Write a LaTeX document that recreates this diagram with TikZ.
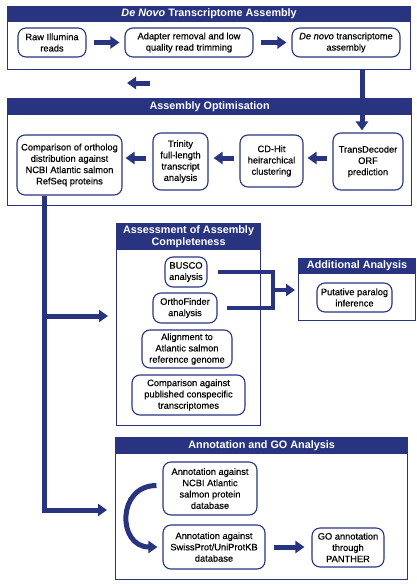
\documentclass[tikz,border=0pt]{standalone}
\usepackage{fontspec}
\setmainfont{Liberation Sans}
\newfontfamily\stepfont[FakeBold=0.35]{Liberation Sans}
\usetikzlibrary{arrows.meta}
\definecolor{navy}{RGB}{40,52,128}
\begin{document}
\begin{tikzpicture}[x=1pt,y=-1pt,
 stepbox/.style={draw=navy, line width=1.1pt, rounded corners=8pt, fill=white, align=center, inner sep=1pt, font=\stepfont\fontsize{9.3}{11.3}\selectfont},
 framebox/.style={draw=navy, line width=1.2pt, anchor=north west, inner sep=0pt},
 titlebar/.style={fill=navy, draw=navy, line width=1.2pt, anchor=north west, inner sep=0pt, text=white, align=center, font=\bfseries\fontsize{10.8}{12}\selectfont},
 fatarrow/.style={draw=navy, line width=5pt, -{Triangle[width=12pt,length=9pt]}},
 bline/.style={draw=navy, line width=4pt},
]
\useasboundingbox (0,0) rectangle (417,584);

% ---- frames
\node[framebox, minimum width=403pt, minimum height=63pt] (f1) at (7,6) {};
\node[titlebar, minimum width=403pt, minimum height=15pt] (t1) at (7,6) {\textit{De Novo} Transcriptome Assembly};

\node[framebox, minimum width=404pt, minimum height=107pt] (f2) at (7,98) {};
\node[titlebar, minimum width=404pt, minimum height=16pt] (t2) at (7,98) {Assembly Optimisation};

\node[framebox, minimum width=144pt, minimum height=202pt] (f3) at (116,223) {};
\node[titlebar, minimum width=144pt, minimum height=26pt] (t3) at (116,223) {Assessment of Assembly\\Completeness};

\node[framebox, minimum width=117pt, minimum height=62pt] (f4) at (298,258) {};
\node[titlebar, minimum width=117pt, minimum height=15pt] (t4) at (298,258) {Additional Analysis};

\node[framebox, minimum width=292pt, minimum height=142pt] (f5) at (115,437) {};
\node[titlebar, minimum width=292pt, minimum height=16pt] (t5) at (115,437) {Annotation and GO Analysis};

% ---- box 1 nodes
\node[stepbox, minimum width=68pt, minimum height=29pt] (raw) at (52,42.5) {Raw Illumina\\reads};
\node[stepbox, minimum width=128pt, minimum height=29pt] (adapt) at (189,42.5) {Adapter removal and low\\quality read trimming};
\node[stepbox, minimum width=108pt, minimum height=29pt] (denovo) at (346,42.5) {\textit{De novo} transcriptome\\assembly};

% ---- box 2 nodes
\node[stepbox, minimum width=105pt, minimum height=60pt] (cmp) at (69.5,165) {Comparison of ortholog\\distribution against\\NCBI Atlantic salmon\\RefSeq proteins};
\node[stepbox, minimum width=55pt, minimum height=57pt] (trin) at (180.5,161.5) {Trinity\\full-length\\transcript\\analysis};
\node[stepbox, minimum width=63pt, minimum height=52pt] (cdhit) at (271.5,161) {CD-Hit\\heirarchical\\clustering};
\node[stepbox, minimum width=70pt, minimum height=57pt] (transd) at (368,161.5) {TransDecoder\\ORF\\prediction};

% ---- box 3 nodes
\node[stepbox, minimum width=42pt, minimum height=30pt] (busco) at (186,272) {BUSCO\\analysis};
\node[stepbox, minimum width=64pt, minimum height=30pt] (ortho) at (185,308) {OrthoFinder\\analysis};
\node[stepbox, minimum width=90pt, minimum height=38pt] (align) at (187,349) {Alignment to\\Atlantic salmon\\reference genome};
\node[stepbox, minimum width=113pt, minimum height=40pt] (compub) at (188.5,395) {Comparison against\\published conspecific\\transcriptomes};

% ---- box 4 node
\node[stepbox, minimum width=75pt, minimum height=29pt] (para) at (354.5,297.5) {Putative paralog\\inference};

% ---- box 5 nodes
\node[stepbox, minimum width=94pt, minimum height=53pt] (ncbi) at (210,488.5) {Annotation against\\NCBI Atlantic\\salmon protein\\database};
\node[stepbox, minimum width=102pt, minimum height=44pt] (swiss) at (214,547) {Annotation against\\SwissProt/UniProtKB\\database};
\node[stepbox, minimum width=72pt, minimum height=39pt] (go) at (348,547.5) {GO annotation\\through\\PANTHER};

% ---- coordinates
\coordinate (la1) at (150,83);
\coordinate (la2) at (127,83);
\coordinate (vx) at (362,0);
\coordinate (ay) at (0,158);
\coordinate (j1) at (44,316);
\coordinate (j2) at (44,510);
\coordinate (bj) at (273,290);

% ---- connectors box 1
\draw[fatarrow, shorten <=7pt, shorten >=5pt] (raw.east) -- (adapt.west);
\draw[fatarrow, shorten <=7pt, shorten >=5pt] (adapt.east) -- (denovo.west);
\draw[fatarrow] (la1) -- (la2);
\draw[fatarrow, shorten >=2pt] (f1.south -| vx) -- (transd.north -| vx);

% ---- connectors box 2
\draw[fatarrow, shorten <=5pt, shorten >=4pt] (transd.west |- ay) -- (cdhit.east |- ay);
\draw[fatarrow, shorten <=5pt, shorten >=5pt] (cdhit.west |- ay) -- (trin.east |- ay);
\draw[fatarrow, shorten <=6pt, shorten >=3pt] (trin.west |- ay) -- (cmp.east |- ay);

% ---- main down line
\draw[fatarrow, shorten >=8pt] (cmp.south -| j1) -- (j2) -- (f5.west |- j2);
\draw[fatarrow, shorten >=8pt] (j1) -- (f3.west |- j1);

% ---- bracket to additional analysis
\draw[bline] ([xshift=10pt]busco.east) -- (busco.east -| bj) -- (ortho.east -| bj) -- ([xshift=9pt]ortho.east);
\draw[bline, -{Triangle[width=12pt,length=9pt]}, shorten >=3pt] (bj) -- (f4.west |- bj);

% ---- box 5 connectors
\draw[fatarrow] ([xshift=-6pt,yshift=3pt]ncbi.west) .. controls +(-40,0) and +(-40,0) .. ([xshift=-5pt]swiss.west);
\draw[fatarrow, shorten <=8pt, shorten >=7pt] (swiss.east) -- (go.west |- swiss.east);
\end{tikzpicture}
\end{document}
